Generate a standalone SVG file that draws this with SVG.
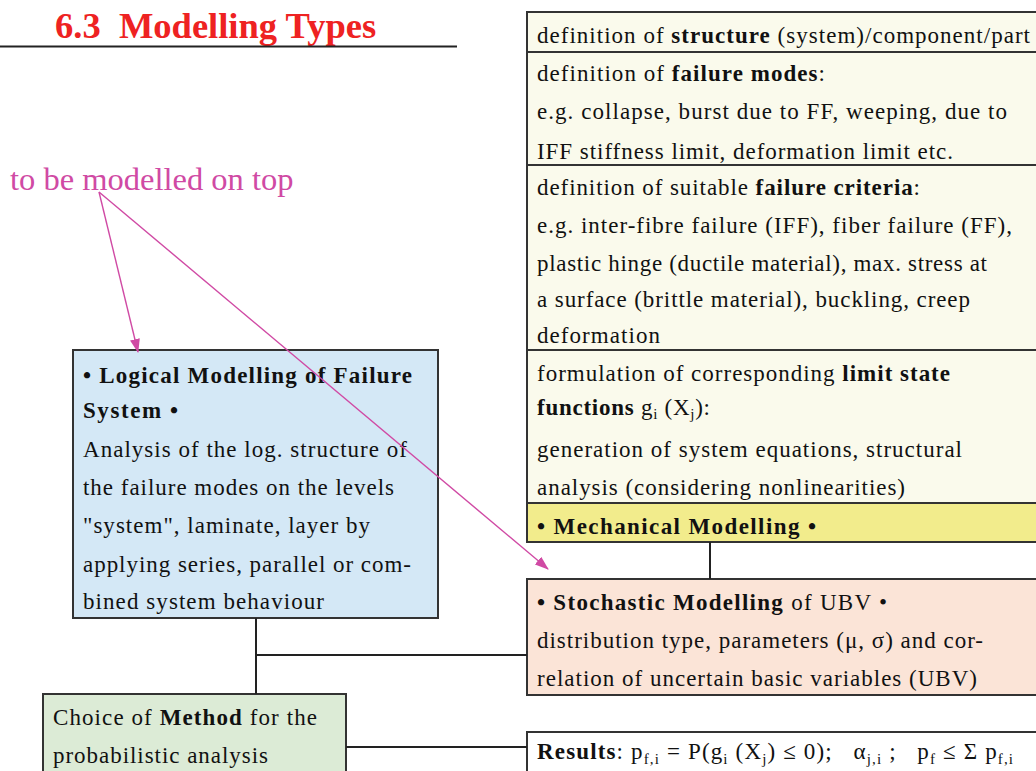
<svg xmlns="http://www.w3.org/2000/svg" width="1036" height="771" viewBox="0 0 1036 771">
<defs>
<style>
.t{font-family:"Liberation Serif","Times New Roman",serif;font-size:23px;fill:#111}
.b{font-weight:bold}
.s{font-size:15px}
.box{stroke:#333;stroke-width:2}
.con{stroke:#222;stroke-width:2;fill:none}
.mag{stroke:#d04aa4;stroke-width:1.4;fill:none}
</style>
<marker id="ah" markerWidth="14" markerHeight="10" refX="13" refY="5" orient="auto" markerUnits="userSpaceOnUse">
<path d="M0,0 L14,5 L0,10 Z" fill="#d04aa4"/>
</marker>
</defs>
<rect width="1036" height="771" fill="#fff"/>

<g id="title">
<text x="55" y="38" style="font-family:'Liberation Serif','Times New Roman',serif;font-size:36.5px;font-weight:bold;fill:#ee2222" xml:space="preserve">6.3  Modelling Types</text>
<line x1="0" y1="46.5" x2="457" y2="46.5" stroke="#222" stroke-width="2"/>
</g>

<g id="note">
<text x="10" y="190" style="font-family:'Liberation Serif','Times New Roman',serif;font-size:32.5px;fill:#d04aa4">to be modelled on top</text>
</g>

<g id="mechanical">
<rect class="box" x="527" y="12" width="515" height="530" fill="#fafaec"/>
<rect x="528" y="503" width="512" height="38" fill="#f2ec8c"/>
<line class="box" x1="527" y1="52" x2="1040" y2="52"/>
<line class="box" x1="527" y1="165" x2="1040" y2="165"/>
<line class="box" x1="527" y1="350" x2="1040" y2="350"/>
<line class="box" x1="527" y1="503" x2="1040" y2="503"/>
<text class="t" x="537" y="43" textLength="493" lengthAdjust="spacing">definition of <tspan class="b">structure</tspan> (system)/component/part</text>
<text class="t" x="537" y="81" textLength="288" lengthAdjust="spacing">definition of <tspan class="b">failure modes</tspan>:</text>
<text class="t" x="537" y="119" textLength="470" lengthAdjust="spacing">e.g.  collapse, burst due to FF, weeping, due to</text>
<text class="t" x="537" y="159" textLength="416" lengthAdjust="spacing">IFF  stiffness limit, deformation limit etc.</text>
<text class="t" x="537" y="195" textLength="383" lengthAdjust="spacing">definition of suitable <tspan class="b">failure criteria</tspan>:</text>
<text class="t" x="537" y="233" textLength="475" lengthAdjust="spacing">e.g.  inter-fibre failure (IFF), fiber failure (FF),</text>
<text class="t" x="537" y="271" textLength="450" lengthAdjust="spacing">plastic hinge (ductile material), max. stress at</text>
<text class="t" x="537" y="307" textLength="433" lengthAdjust="spacing">a surface (brittle material), buckling, creep</text>
<text class="t" x="537" y="343" textLength="123" lengthAdjust="spacing">deformation</text>
<text class="t" x="537" y="381" textLength="413" lengthAdjust="spacing">formulation of corresponding <tspan class="b">limit state</tspan></text>
<text class="t" x="537" y="415" textLength="173" lengthAdjust="spacing"><tspan class="b">functions</tspan> g<tspan class="s" dy="4">i</tspan><tspan dy="-4"> (X</tspan><tspan class="s" dy="4">j</tspan><tspan dy="-4">):</tspan></text>
<text class="t" x="537" y="457" textLength="425" lengthAdjust="spacing">generation of system equations, structural</text>
<text class="t" x="537" y="495" textLength="368" lengthAdjust="spacing">analysis (considering nonlinearities)</text>
<text class="t b" x="537" y="534" textLength="279" lengthAdjust="spacing">• Mechanical Modelling •</text>
</g>

<g id="stochastic">
<rect class="box" x="527" y="579" width="515" height="116" fill="#fbe4d7"/>
<text class="t" x="537" y="610" textLength="350" lengthAdjust="spacing"><tspan class="b">• Stochastic Modelling</tspan> of UBV •</text>
<text class="t" x="537" y="648" textLength="446" lengthAdjust="spacing">distribution type, parameters (μ, σ) and cor-</text>
<text class="t" x="537" y="686" textLength="440" lengthAdjust="spacing">relation of uncertain basic variables (UBV)</text>
</g>

<g id="results">
<rect class="box" x="527" y="732" width="515" height="45" fill="#ffffff"/>
<text class="t" x="537" y="759" textLength="476" lengthAdjust="spacing" xml:space="preserve"><tspan class="b">Results</tspan>: p<tspan class="s" dy="5">f,i</tspan><tspan dy="-5"> = P(g</tspan><tspan class="s" dy="5">i</tspan><tspan dy="-5"> (X</tspan><tspan class="s" dy="5">j</tspan><tspan dy="-5">) ≤ 0);   α</tspan><tspan class="s" dy="5">j,i</tspan><tspan dy="-5"> ;   p</tspan><tspan class="s" dy="5">f</tspan><tspan dy="-5"> ≤ Σ p</tspan><tspan class="s" dy="5">f,i</tspan></text>
</g>

<g id="logical">
<rect class="box" x="73" y="350" width="365" height="268" fill="#d4e8f6"/>
<text class="t b" x="83" y="383" textLength="329" lengthAdjust="spacing">• Logical Modelling of Failure</text>
<text class="t b" x="83" y="418" textLength="95" lengthAdjust="spacing">System •</text>
<text class="t" x="83" y="457" textLength="324" lengthAdjust="spacing">Analysis of the log. structure of</text>
<text class="t" x="83" y="495" textLength="311" lengthAdjust="spacing">the failure modes on the levels</text>
<text class="t" x="83" y="533" textLength="287" lengthAdjust="spacing">"system", laminate, layer by</text>
<text class="t" x="83" y="572" textLength="328" lengthAdjust="spacing">applying series, parallel or com-</text>
<text class="t" x="83" y="609" textLength="241" lengthAdjust="spacing">bined system behaviour</text>
</g>

<g id="method">
<rect class="box" x="43" y="694" width="303" height="83" fill="#dcebd6"/>
<text class="t" x="53" y="725" textLength="264" lengthAdjust="spacing">Choice of <tspan class="b">Method</tspan> for the</text>
<text class="t" x="53" y="763" textLength="215" lengthAdjust="spacing">probabilistic analysis</text>
</g>

<g id="connectors">
<line class="con" x1="710" y1="542" x2="710" y2="579"/>
<line class="con" x1="256" y1="618" x2="256" y2="694"/>
<line class="con" x1="256" y1="655" x2="527" y2="655"/>
<line class="con" x1="346" y1="747" x2="527" y2="747"/>
<line class="mag" x1="99" y1="192" x2="138" y2="352" marker-end="url(#ah)"/>
<line class="mag" x1="99" y1="192" x2="548" y2="569" marker-end="url(#ah)"/>
</g>
</svg>
